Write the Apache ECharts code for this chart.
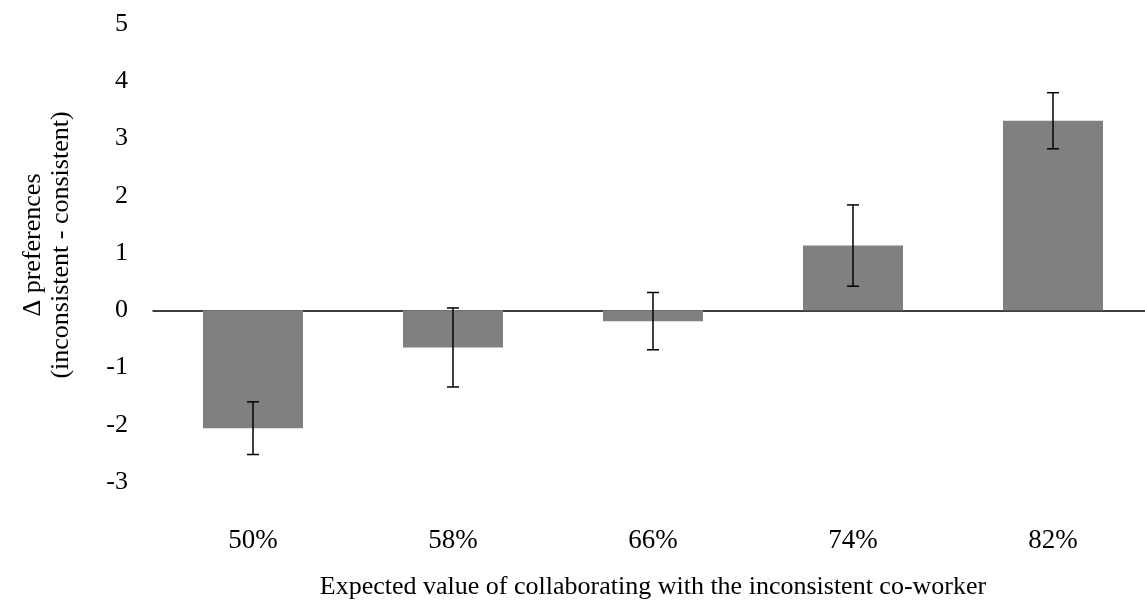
<!DOCTYPE html>
<html>
<head>
<meta charset="utf-8">
<script src="https://cdn.jsdelivr.net/npm/echarts@6/dist/echarts.min.js"></script>
<style>
  html, body { margin: 0; padding: 0; background: #fff; }
  #chart { width: 1145px; height: 601px; }
</style>
</head>
<body>
<div id="chart"></div>
<script>
const categories = ['50%', '58%', '66%', '74%', '82%']
const deltaValues = [-2.06, -0.65, -0.19, 1.13, 3.31]
const errorValues = [0.46, 0.69, 0.50, 0.71, 0.49]
const yTicks = [-3, -2, -1, 0, 1, 2, 3, 4, 5]

const font = "'Liberation Serif', 'Times New Roman', serif"
const chart = echarts.init(document.getElementById('chart'))

// error bars drawn through the axis scale
const errorData = deltaValues.map((v, i) => [i, v - errorValues[i], v + errorValues[i]])

chart.setOption({
  animation: false,
  grid: { left: 153, right: -8, top: 24, bottom: 119, containLabel: false, outerBoundsMode: 'none' },
  xAxis: [
    {
      type: 'category',
      data: categories,
      axisLine: { onZero: true, lineStyle: { color: '#000', width: 1.5 } },
      axisTick: { show: false },
      axisLabel: { show: false },
      splitLine: { show: false }
    },
    {
      type: 'category',
      data: categories,
      position: 'bottom',
      axisLine: { show: false, onZero: false },
      axisTick: { show: false },
      axisLabel: { color: '#000', fontFamily: font, fontSize: 27, margin: 45 },
      name: 'Expected value of collaborating with the inconsistent co-worker',
      nameLocation: 'middle',
      nameGap: 92,
      nameTextStyle: { color: '#000', fontFamily: font, fontSize: 26 }
    }
  ],
  yAxis: {
    type: 'value',
    min: yTicks[0],
    max: yTicks[yTicks.length - 1],
    interval: 1,
    axisLine: { show: false },
    axisTick: { show: false },
    splitLine: { show: false },
    axisLabel: { color: '#000', fontFamily: font, fontSize: 26, margin: 25 },
    name: 'Δ preferences\n(inconsistent - consistent)',
    nameLocation: 'middle',
    nameGap: 78,
    nameTextStyle: { color: '#000', fontFamily: font, fontSize: 26, lineHeight: 28, padding: [0, 0, 0, 16] }
  },
  series: [
    {
      type: 'bar',
      xAxisIndex: 0,
      barWidth: '50%',
      itemStyle: { color: '#808080' },
      data: deltaValues
    },
    {
      type: 'custom',
      xAxisIndex: 0,
      z: 5,
      renderItem: function (params, api) {
        const x = api.coord([api.value(0), api.value(1)])[0]
        const lo = api.coord([api.value(0), api.value(1)])[1]
        const hi = api.coord([api.value(0), api.value(2)])[1]
        const half = 6
        const style = { stroke: '#000', lineWidth: 1.5 }
        return {
          type: 'group',
          children: [
            { type: 'line', shape: { x1: x, y1: hi, x2: x, y2: lo }, style: style },
            { type: 'line', shape: { x1: x - half, y1: hi, x2: x + half, y2: hi }, style: style },
            { type: 'line', shape: { x1: x - half, y1: lo, x2: x + half, y2: lo }, style: style }
          ]
        }
      },
      encode: { x: 0, y: [1, 2] },
      data: errorData
    }
  ]
})
</script>
</body>
</html>
